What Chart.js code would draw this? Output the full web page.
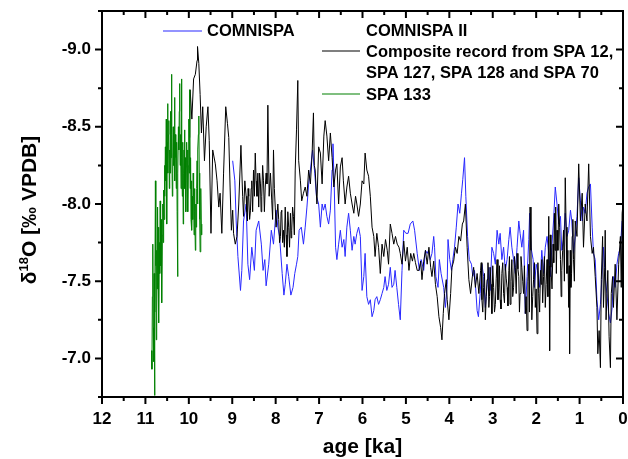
<!DOCTYPE html>
<html>
<head>
<meta charset="utf-8">
<script src="https://cdn.jsdelivr.net/npm/chart.js@4.4.1/dist/chart.umd.min.js"></script>
<style>
html,body{margin:0;padding:0;background:#fff;}
canvas{display:block;}
</style>
</head>
<body>
<canvas id="c" width="628" height="459"></canvas>
<script>
// ---------------- DATA ----------------
const xTickValues = [12,11,10,9,8,7,6,5,4,3,2,1,0];
const yTickValues = [-9.0,-8.5,-8.0,-7.5,-7.0];

const seriesNames = ["COMNISPA", "COMNISPA II", "Composite record from SPA 12,", "SPA 127, SPA 128 and SPA 70", "SPA 133"];

// SPA 133 (green)
const spa133Age = [10.86,10.85,10.84,10.83,10.82,10.81,10.80,10.79,10.78,10.77,10.76,10.75,10.74,10.73,10.72,10.71,10.70,10.69,10.68,10.67,10.66,10.65,10.64,10.63,10.62,10.61,10.60,10.59,10.58,10.57,10.56,10.55,10.54,10.53,10.52,10.51,10.50,10.49,10.48,10.47,10.46,10.45,10.44,10.43,10.42,10.41,10.40,10.39,10.38,10.37,10.36,10.35,10.34,10.33,10.32,10.31,10.30,10.29,10.28,10.27,10.26,10.25,10.24,10.23,10.22,10.21,10.20,10.19,10.18,10.17,10.16,10.15,10.14,10.13,10.12,10.11,10.10,10.09,10.08,10.07,10.06,10.05,10.04,10.03,10.02,10.01,10.00,9.99,9.98,9.97,9.96,9.95,9.94,9.93,9.92,9.91,9.90,9.89,9.88,9.87,9.86,9.85,9.84,9.83,9.82,9.81,9.80,9.79,9.78,9.77,9.76,9.75,9.74,9.73,9.72,9.71,9.70];
const spa133D18O = [-7.05,-6.93,-7.40,-7.74,-7.20,-6.98,-7.55,-6.76,-7.30,-8.15,-7.60,-7.12,-7.70,-7.45,-7.98,-7.50,-7.85,-7.23,-7.75,-7.55,-8.02,-7.60,-7.90,-7.68,-7.36,-7.80,-8.00,-7.75,-8.09,-7.90,-8.25,-8.05,-8.37,-8.15,-8.55,-7.87,-8.40,-8.65,-8.20,-8.45,-8.54,-8.10,-8.35,-8.20,-8.60,-8.30,-8.84,-8.45,-8.05,-8.20,-8.50,-8.25,-8.40,-8.69,-8.15,-8.45,-8.30,-8.10,-8.40,-7.95,-7.53,-8.20,-8.50,-8.35,-8.60,-8.78,-8.25,-8.45,-8.10,-8.81,-8.30,-8.05,-8.40,-7.87,-8.20,-8.35,-8.48,-8.10,-8.30,-7.95,-8.24,-8.40,-8.15,-8.35,-7.95,-8.25,-8.55,-8.20,-8.74,-8.10,-8.30,-7.90,-8.15,-7.83,-8.05,-7.90,-8.20,-8.05,-7.80,-8.10,-7.95,-7.70,-8.00,-7.85,-8.10,-8.28,-8.00,-8.35,-8.45,-8.57,-8.20,-7.90,-7.69,-7.95,-8.10,-7.80,-7.87];

// Composite record from SPA 12, SPA 127, SPA 128 and SPA 70 (black)
const compAge = [
 9.98,9.97,9.93,9.89,9.85,9.81,9.80,9.77,9.74,9.71,9.68,9.64,9.60,9.56,9.53,9.49,9.45,9.39,9.35,9.31,9.28,9.24,9.20,9.15,9.11,9.08,9.05,9.02,8.99,8.97,8.93,8.89,8.85,8.80,8.76,8.74,8.71,8.68,8.665,8.65,8.635,8.62,8.60,8.58,8.565,8.55,8.53,8.51,8.49,8.47,8.45,8.43,8.41,8.39,8.37,8.35,8.335,8.32,8.30,8.28,8.26,8.24,8.22,8.20,8.18,8.15,8.12,8.09,8.07,8.05,8.03,8.01,7.99,7.97,7.95,7.93,7.91,7.89,7.875,7.86,7.84,7.82,7.80,7.78,7.76,7.74,7.72,7.70,7.68,7.66,7.645,7.63,7.61,7.59,7.57,7.55,7.52,7.49,7.47,
 7.43,7.40,7.36,7.32,7.28,7.24,7.20,7.16,7.13,7.11,7.09,7.05,7.01,6.97,6.93,6.89,6.86,6.82,6.78,6.74,6.70,6.66,6.62,6.59,6.55,6.51,6.47,6.44,6.40,6.36,6.32,6.28,6.24,6.20,6.16,6.13,6.09,6.05,6.01,5.97,5.94,5.90,5.86,5.82,5.78,5.74,5.71,5.67,5.63,5.59,5.55,5.51,5.47,5.43,5.40,5.36,5.32,5.28,5.24,5.20,5.16,5.13,5.09,5.05,5.01,4.97,4.93,4.89,4.85,4.82,4.78,4.74,4.70,4.66,4.63,4.59,4.55,4.51,4.47,4.43,4.40,4.36,4.32,4.28,4.24,4.20,4.17,4.14,4.11,4.07,4.05,4.01,3.97,3.94,3.90,3.86,3.82,3.78,3.74,3.70,3.67,3.63,3.59,3.55,3.51,3.47,3.44,3.40,3.36,3.32,
 3.28,3.265,3.25,3.23,3.21,3.19,3.17,3.15,3.13,3.11,3.09,3.075,3.06,3.04,3.02,3.00,2.98,2.96,2.94,2.92,2.90,2.88,2.86,2.845,2.83,2.81,2.79,2.77,2.75,2.73,2.71,2.69,2.67,2.65,2.63,2.615,2.60,2.58,2.56,2.54,2.52,2.50,2.48,2.46,2.44,2.42,2.40,2.385,2.37,2.35,2.33,2.31,2.29,2.27,2.25,2.23,2.21,2.19,2.17,2.155,2.14,2.12,2.10,2.08,2.06,2.04,2.02,2.00,1.98,1.96,1.94,1.92,1.90,1.885,1.87,1.85,1.83,1.81,1.79,1.77,1.75,1.73,1.71,1.70,1.69,1.675,1.66,1.635,1.61,1.595,1.58,1.565,1.55,1.535,1.52,1.50,1.48,1.46,1.44,1.425,1.41,1.39,1.37,1.35,1.33,1.31,1.29,1.27,1.25,1.24,1.23,1.215,1.20,1.185,1.17,1.155,1.14,1.12,1.10,
 1.06,1.02,0.98,0.94,0.91,0.87,0.83,0.79,0.75,0.71,0.68,0.64,0.60,0.58,0.55,0.52,0.50,0.47,0.45,0.42,0.41,0.39,0.35,0.32,0.29,0.27,0.24,0.22,0.18,0.14,0.10,0.06,0.04,0.02,0.00];
const compD18O = [
 -8.43,-8.74,-8.55,-8.81,-8.84,-8.93,-9.02,-8.91,-8.71,-8.46,-8.63,-8.28,-8.50,-8.63,-8.41,-7.81,-8.35,-8.26,-8.15,-7.98,-8.07,-7.81,-8.20,-8.63,-8.52,-8.43,-8.11,-7.83,-7.96,-7.81,-7.74,-7.79,-8.00,-8.38,-8.05,-7.92,-8.15,-8.05,-7.95,-7.89,-8.10,-8.05,-7.90,-7.96,-8.10,-8.15,-7.95,-8.22,-8.05,-8.33,-8.15,-8.05,-8.20,-7.98,-8.20,-8.13,-7.95,-8.05,-8.25,-8.15,-7.95,-8.11,-8.20,-8.13,-8.64,-8.05,-8.20,-8.02,-7.90,-8.35,-8.10,-7.98,-7.85,-7.85,-8.00,-7.90,-7.75,-7.79,-7.95,-7.96,-7.75,-7.83,-7.72,-7.98,-7.80,-7.66,-7.95,-7.85,-7.72,-7.94,-7.78,-7.83,-7.98,-7.92,-7.80,-8.22,-8.48,-8.80,-8.28,
 -8.15,-8.02,-8.07,-8.11,-8.05,-8.22,-8.13,-8.33,-8.59,-8.25,-8.22,-8.00,-8.37,-8.33,-8.13,-8.44,-8.54,-8.44,-8.28,-8.46,-8.30,-8.11,-8.22,-8.26,-8.00,-8.24,-8.30,-8.15,-8.00,-8.11,-8.18,-8.07,-8.00,-7.94,-8.05,-8.00,-7.92,-8.00,-8.15,-8.13,-8.33,-8.22,-8.18,-8.05,-7.85,-7.79,-7.66,-7.81,-7.72,-7.55,-7.74,-7.66,-7.77,-7.70,-7.61,-7.87,-7.81,-7.74,-7.79,-7.74,-7.72,-7.68,-7.61,-7.76,-7.63,-7.72,-7.57,-7.68,-7.63,-7.68,-7.62,-7.57,-7.57,-7.63,-7.51,-7.63,-7.70,-7.61,-7.72,-7.59,-7.53,-7.63,-7.48,-7.40,-7.27,-7.20,-7.12,-7.29,-7.42,-7.51,-7.38,-7.25,-7.42,-7.59,-7.63,-7.72,-7.68,-7.79,-7.76,-7.87,-7.89,-8.00,-7.72,-7.51,-7.42,-7.53,-7.59,-7.46,-7.55,-7.42,
 -7.57,-7.62,-7.38,-7.30,-7.46,-7.55,-7.25,-7.40,-7.51,-7.62,-7.33,-7.40,-7.59,-7.48,-7.29,-7.60,-7.46,-7.30,-7.35,-7.52,-7.64,-7.38,-7.46,-7.60,-7.38,-7.32,-7.55,-7.62,-7.42,-7.36,-7.61,-7.52,-7.46,-7.34,-7.57,-7.66,-7.35,-7.50,-7.64,-7.40,-7.46,-7.66,-7.59,-7.42,-7.68,-7.58,-7.53,-7.30,-7.42,-7.66,-7.59,-7.50,-7.42,-7.60,-7.29,-7.40,-7.18,-7.50,-7.61,-7.30,-7.98,-7.70,-7.25,-7.40,-7.51,-7.62,-7.33,-7.45,-7.16,-7.62,-7.42,-7.30,-7.57,-7.48,-7.64,-7.36,-7.53,-7.66,-7.33,-7.48,-7.64,-7.40,-7.92,-7.60,-7.05,-7.80,-7.59,-7.45,-7.74,-7.62,-7.94,-7.70,-7.98,-7.55,-7.83,-7.70,-8.00,-7.85,-7.64,-7.40,-7.57,-7.70,-7.83,-7.50,-8.17,-7.85,-7.55,-7.70,-7.33,-7.60,-7.03,-7.70,-7.46,-7.55,-7.79,-7.90,-7.64,-7.50,-7.89,
 -7.79,-8.26,-7.89,-8.07,-7.72,-8.00,-7.89,-8.26,-7.79,-7.68,-7.72,-7.53,-7.33,-7.03,-7.18,-6.94,-7.51,-7.79,-7.33,-7.59,-7.83,-7.25,-7.57,-7.14,-6.94,-7.42,-7.53,-7.33,-7.61,-7.25,-7.61,-7.79,-7.46,-7.94,-8.00];

// COMNISPA (blue)
const comnispaAge = [8.99,8.94,8.91,8.87,8.81,8.78,8.74,8.68,8.64,8.60,8.55,8.49,8.45,8.39,8.33,8.29,8.25,8.22,8.16,8.10,8.05,7.99,7.95,7.91,7.85,7.81,7.78,7.74,7.70,7.65,7.60,7.56,7.52,7.49,7.46,7.41,7.36,7.32,7.28,7.24,7.20,7.15,7.10,7.06,7.01,6.97,6.93,6.90,6.86,6.82,6.78,6.74,6.70,6.68,6.65,6.62,6.59,6.55,6.51,6.47,6.43,6.40,6.36,6.32,6.28,6.24,6.20,6.17,6.13,6.09,6.05,6.01,5.97,5.94,5.90,5.86,5.82,5.78,5.74,5.71,5.67,5.63,5.59,5.55,5.51,5.48,5.44,5.40,5.36,5.32,5.28,5.25,5.21,5.17,5.13,5.09,5.05,5.00,4.95,4.90,4.84,4.80,4.74,4.69,4.65,4.59,4.55,4.51,4.48,4.44,4.40,4.36,4.34,4.31,4.26,4.23,4.19,4.13,4.09,4.05,4.03,3.99,3.95,3.92,3.88,3.84,3.80,3.76,3.72,3.69,3.65,3.62,3.58,3.54,3.49,3.46,3.42,3.36,3.33,3.29,3.25,3.21,3.17,3.13,3.09,3.06,3.02,2.98,2.94,2.90,2.86,2.83,2.79,2.75,2.71,2.67,2.63,2.60,2.56,2.52,2.48,2.44,2.40,2.37,2.33,2.29,2.25,2.21,2.17,2.15,2.12,2.07,2.04,2.00,1.97,1.92,1.87,1.83,1.79,1.75,1.71,1.67,1.64,1.60,1.56,1.52,1.48,1.44,1.41,1.37,1.33,1.29,1.25,1.21,1.18,1.14,1.10,1.06,1.02,0.98,0.94,0.91,0.87,0.83,0.79,0.75,0.71,0.68,0.64,0.60,0.56,0.52,0.49,0.45,0.41,0.37,0.33,0.29,0.25,0.22,0.18,0.14,0.10,0.06,0.02];
const comnispaD18O = [-8.28,-8.15,-7.89,-7.66,-7.44,-7.57,-7.89,-8.00,-7.61,-7.51,-7.72,-7.57,-7.83,-7.89,-7.74,-7.57,-7.64,-7.47,-7.61,-7.83,-7.74,-7.96,-7.85,-7.79,-7.55,-7.41,-7.48,-7.61,-7.53,-7.41,-7.46,-7.55,-7.61,-7.66,-7.83,-7.85,-7.74,-7.85,-7.98,-8.13,-8.22,-8.35,-8.20,-8.05,-8.00,-7.85,-8.00,-7.96,-8.00,-7.92,-7.87,-7.96,-8.22,-8.39,-8.11,-7.72,-7.64,-7.74,-7.83,-7.72,-7.77,-7.66,-7.85,-7.94,-7.83,-7.70,-7.79,-7.74,-7.81,-7.85,-7.79,-7.44,-7.53,-7.68,-7.40,-7.35,-7.38,-7.27,-7.31,-7.38,-7.40,-7.35,-7.38,-7.42,-7.46,-7.53,-7.44,-7.48,-7.59,-7.46,-7.48,-7.57,-7.46,-7.35,-7.25,-7.57,-7.83,-7.81,-7.81,-7.87,-7.89,-7.83,-7.68,-7.57,-7.64,-7.57,-7.70,-7.68,-7.70,-7.64,-7.68,-7.79,-7.72,-7.53,-7.46,-7.64,-7.55,-7.46,-7.33,-7.48,-7.77,-7.64,-7.57,-7.64,-7.72,-7.85,-8.00,-7.94,-8.07,-8.16,-8.30,-8.05,-7.79,-7.64,-7.61,-7.53,-7.57,-7.31,-7.27,-7.42,-7.61,-7.53,-7.33,-7.48,-7.59,-7.44,-7.72,-7.68,-7.61,-7.83,-7.74,-7.81,-7.64,-7.72,-7.57,-7.64,-7.77,-7.85,-7.72,-7.64,-7.55,-7.72,-7.89,-7.81,-7.72,-7.83,-7.29,-7.53,-7.77,-7.94,-7.72,-7.64,-7.46,-7.61,-7.57,-7.46,-7.70,-7.55,-7.72,-7.79,-7.68,-7.53,-7.72,-7.89,-8.11,-8.00,-7.87,-7.92,-7.70,-7.77,-7.94,-7.79,-7.83,-7.96,-7.89,-7.68,-7.79,-7.92,-8.17,-8.02,-7.89,-7.98,-7.94,-8.07,-8.11,-8.13,-7.85,-7.68,-7.64,-7.38,-7.25,-7.35,-7.51,-7.72,-7.53,-7.42,-7.29,-7.23,-7.33,-7.53,-7.46,-7.61,-7.68,-7.72,-7.89];

// ---------------- CHART ----------------
const BLUE = 'rgb(40,40,255)';
const BLACK = 'rgb(0,0,0)';
const GREEN = 'rgb(0,128,0)';
const FONT = '"Liberation Sans", Arial, Helvetica, sans-serif';

function pts(xs, ys){ return xs.map((v,i)=>({x:v, y:ys[i]})); }

const framePlugin = {
  id: 'frame',
  afterDatasetsDraw(chart){
    const {ctx, chartArea:a, scales:{x, y}} = chart;
    ctx.save();
    ctx.strokeStyle = '#000';
    ctx.lineWidth = 2;
    ctx.strokeRect(a.left, a.top, a.right - a.left, a.bottom - a.top);
    ctx.beginPath();
    for (let i = 0; i <= 24; i++) {
      const px = x.getPixelForValue(i * 0.5);
      const len = (i % 2 === 0) ? 7 : 4;
      ctx.moveTo(px, a.bottom); ctx.lineTo(px, a.bottom + len);
      ctx.moveTo(px, a.top); ctx.lineTo(px, a.top + len);
    }
    for (let i = 0; i <= 10; i++) {
      const py = y.getPixelForValue(-9.25 + i * 0.25);
      const len = (i % 2 === 1) ? 7 : 4;
      ctx.moveTo(a.left, py); ctx.lineTo(a.left - len, py);
      ctx.moveTo(a.right, py); ctx.lineTo(a.right - len, py);
    }
    ctx.stroke();

    // legend
    ctx.font = 'bold 16.5px ' + FONT;
    ctx.fillStyle = '#000';
    ctx.textBaseline = 'middle';
    ctx.textAlign = 'left';
    ctx.lineWidth = 1.2;
    const leg = (color, x0, x1, yy) => {
      ctx.strokeStyle = color; ctx.beginPath(); ctx.moveTo(x0, yy); ctx.lineTo(x1, yy); ctx.stroke();
    };
    leg(BLUE, 163, 202, 31);
    ctx.fillText(seriesNames[0], 207, 31);
    ctx.fillText(seriesNames[1], 366, 31);
    leg(BLACK, 322, 360, 51);
    ctx.fillText(seriesNames[2], 366, 52);
    ctx.fillText(seriesNames[3], 366, 73);
    leg(GREEN, 322, 360, 94);
    ctx.fillText(seriesNames[4], 366, 95);

    // axis titles
    ctx.font = 'bold 21px ' + FONT;
    ctx.textAlign = 'center';
    ctx.textBaseline = 'middle';
    ctx.fillText('age [ka]', (a.left + a.right) / 2, 447);

    ctx.translate(36, 210);
    ctx.rotate(-Math.PI / 2);
    ctx.textBaseline = 'alphabetic';
    ctx.textAlign = 'left';
    const big = 'bold 21px ' + FONT, small = 'bold 13px ' + FONT;
    ctx.font = big; const w1 = ctx.measureText('\u03b4').width;
    ctx.font = small; const w2 = ctx.measureText('18').width;
    ctx.font = big; const w3 = ctx.measureText('O [\u2030 VPDB]').width;
    let sx = -(w1 + w2 + w3) / 2;
    ctx.font = big; ctx.fillText('\u03b4', sx, 0); sx += w1;
    ctx.font = small; ctx.fillText('18', sx, -8); sx += w2;
    ctx.font = big; ctx.fillText('O [\u2030 VPDB]', sx, 0);
    ctx.restore();
  }
};

new Chart(document.getElementById('c'), {
  type: 'line',
  data: {
    datasets: [
      { label: 'SPA 133', data: pts(spa133Age, spa133D18O), borderColor: GREEN, borderWidth: 1, pointRadius: 0, tension: 0, fill: false },
      { label: 'Composite', data: pts(compAge, compD18O), borderColor: BLACK, borderWidth: 1, pointRadius: 0, tension: 0, fill: false },
      { label: 'COMNISPA', data: pts(comnispaAge, comnispaD18O), borderColor: BLUE, borderWidth: 1, pointRadius: 0, tension: 0, fill: false }
    ]
  },
  options: {
    responsive: false,
    animation: false,
    layout: { padding: { left: 0, right: 5, top: 11, bottom: 0 } },
    plugins: { legend: { display: false }, tooltip: { enabled: false } },
    scales: {
      x: {
        type: 'linear', min: 0, max: 12, reverse: true,
        afterFit(s){ s.height = 62; s.paddingLeft = 0; s.paddingRight = 0; },
        afterBuildTicks(s){ s.ticks = xTickValues.map(v => ({value: v})); },
        grid: { display: false, drawTicks: false },
        border: { display: false },
        ticks: { padding: 12, color: '#000', font: { family: FONT, size: 17, weight: 'bold' }, maxRotation: 0, autoSkip: false, callback: v => String(v) }
      },
      y: {
        type: 'linear', min: -9.25, max: -6.75, reverse: true,
        afterFit(s){ s.width = 102; s.paddingTop = 0; s.paddingBottom = 0; },
        afterBuildTicks(s){ s.ticks = yTickValues.map(v => ({value: v})); },
        grid: { display: false, drawTicks: false },
        border: { display: false },
        ticks: { padding: 11, color: '#000', font: { family: FONT, size: 17, weight: 'bold' }, autoSkip: false, callback: v => Number(v).toFixed(1) }
      }
    }
  },
  plugins: [framePlugin]
});
</script>
</body>
</html>
